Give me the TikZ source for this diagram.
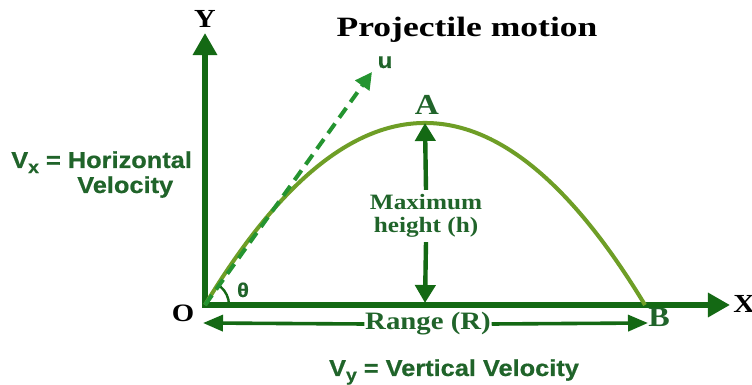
\documentclass[tikz,border=0pt]{standalone}
\usepackage{fontspec}
\usetikzlibrary{arrows.meta}
\newfontfamily\serifb[FakeStretch=1.15]{Liberation Serif}
\newfontfamily\titlef[FakeStretch=1.27]{Liberation Serif}
\newfontfamily\sansb[FakeStretch=1.1,FakeBold=0.6]{Liberation Sans}
\definecolor{axisgreen}{RGB}{20,105,20}
\definecolor{textgreen}{RGB}{32,100,42}
\definecolor{pathgreen}{RGB}{110,158,38}
\definecolor{dashgreen}{RGB}{36,148,48}
\newcommand{\lowsub}[1]{\raisebox{-0.22em}{\fontsize{12.5pt}{12.5pt}\selectfont #1}}
\begin{document}
\begin{tikzpicture}[x=0.025cm,y=-0.025cm,
  axis/.style={draw=axisgreen,line width=0.15cm,line cap=rect,
    -{Triangle[length=0.55cm,width=0.58cm]}},
  hgt/.style={draw=axisgreen,line width=0.11cm,-{Triangle[length=0.45cm,width=0.5cm]}},
  rngarrow/.style={draw=axisgreen,line width=0.09cm,-{Triangle[length=0.5cm,width=0.4cm]}},
  blacklabel/.style={font=\serifb\bfseries\fontsize{18.5pt}{18.5pt}\selectfont,text=black,inner sep=0pt,anchor=base},
  greenserif/.style={font=\serifb\bfseries,text=textgreen,inner sep=0pt,anchor=base},
  greensans/.style={font=\sansb\bfseries\fontsize{16.4pt}{16.4pt}\selectfont,text=textgreen,inner sep=0pt,anchor=base}]
\useasboundingbox (0,0) rectangle (752,385);
\fill[white] (0,0) rectangle (752,385);
% key points
\coordinate (o) at (205,305);
\coordinate (ytip) at (205,33);
\coordinate (xtip) at (730,305);
\coordinate (peak) at (425,123);
\coordinate (foot) at (425,303);
\coordinate (b) at (645,305);
\coordinate (utip) at (372,72);
\coordinate (rl) at (203,323);
\coordinate (rr) at (648,323);
% axes
\draw[axis] (o) -- (ytip);
\draw[axis] (o) -- (xtip);
% trajectory
\draw[pathgreen,line width=0.1cm] (o) .. controls (351.7,62.3) and (498.3,62.3) .. (b);
% initial velocity
\draw[dashgreen,line width=0.1cm,dash pattern=on 0.3cm off 0.18cm,
  -{Triangle[length=0.42cm,width=0.42cm]}] (o) -- (utip);
% angle
\draw[axisgreen,line width=0.06cm] ([xshift=0.6cm]o) arc[start angle=0,end angle=50,radius=0.6cm];
% labels
\node[anchor=base,font=\titlef\bfseries\fontsize{19.9pt}{19.9pt}\selectfont,inner sep=0pt] (ttl) at (467,37) {Projectile motion};
\node[blacklabel] (ylab) at (205,28) {Y};
\node[blacklabel,anchor=base west] (xlab) at (733,313) {X};
\node[blacklabel,font=\serifb\bfseries\fontsize{17.8pt}{17.8pt}\selectfont] (olab) at (183,322) {O};
\node[greenserif,font=\serifb\bfseries\fontsize{20.6pt}{20.6pt}\selectfont] (alab) at (427,115) {A};
\node[greenserif,font=\serifb\bfseries\fontsize{19.9pt}{19.9pt}\selectfont] (blab) at (659,327) {B};
\node[greensans,font=\sansb\bfseries\fontsize{15.6pt}{15.6pt}\selectfont] (ulab) at (385,68) {u};
\node[greensans,font=\sansb\bfseries\fontsize{14.2pt}{14.2pt}\selectfont] (thlab) at (243,297) {θ};
% maximum height
\node[font=\serifb\bfseries\fontsize{15.6pt}{16.4pt}\selectfont,text=textgreen,align=center,inner xsep=0pt,inner ysep=3pt] (mh) at (426,216) {Maximum\\height (h)};
\draw[hgt] (mh.north) -- (peak);
\draw[hgt] (mh.south) -- (foot);
% range
\node[font=\serifb\bfseries\fontsize{17.8pt}{17.8pt}\selectfont,text=textgreen,fill=white,inner xsep=0.5pt,inner ysep=1pt] (rng) at (428,324) {Range (R)};
\draw[rngarrow] (rng.west) -- (rl);
\draw[rngarrow] (rng.east) -- (rr);
% velocity texts
\node[greensans,anchor=base west] (vx1) at (11,168) {V\lowsub{x} = Horizontal};
\node[greensans,anchor=base west] (vx2) at (77,193) {Velocity};
\node[greensans] (vy) at (454,376) {V\lowsub{y} = Vertical Velocity};
\end{tikzpicture}
\end{document}
